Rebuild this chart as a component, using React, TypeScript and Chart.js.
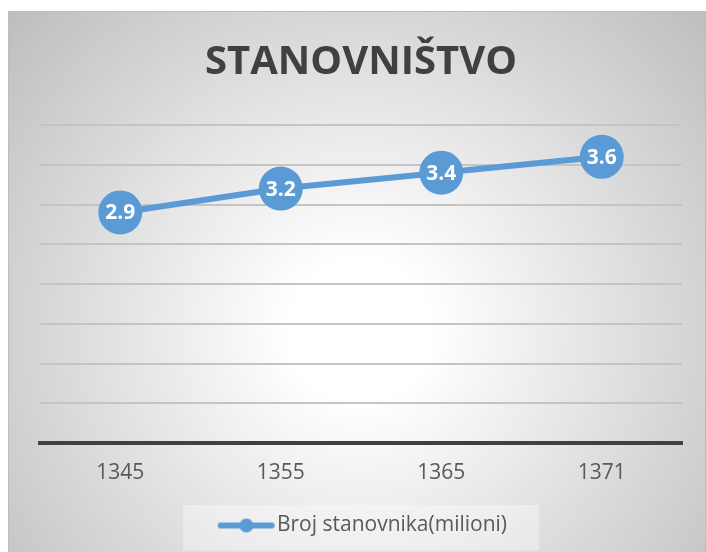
import React, { useEffect, useRef } from "react";
import { Chart, registerables } from "chart.js";

Chart.register(...registerables);

const categories: string[] = ["1345", "1355", "1365", "1371"];
const populationValues: number[] = [2.9, 3.2, 3.4, 3.6];
const seriesLabel = "Broj stanovnika(milioni)";
const chartTitle = "STANOVNIŠTVO";
const yMin = 0;
const yMax = 4;
const yStep = 0.5;

const BLUE = "#5b9bd5";

function makeLegendImage(): HTMLCanvasElement {
  const c = document.createElement("canvas");
  c.width = 72;
  c.height = 20;
  const g = c.getContext("2d")!;
  g.strokeStyle = BLUE;
  g.lineWidth = 6;
  g.lineCap = "round";
  g.beginPath();
  g.moveTo(16, 10);
  g.lineTo(67, 10);
  g.stroke();
  g.fillStyle = BLUE;
  g.beginPath();
  g.arc(41.75, 10, 7, 0, Math.PI * 2);
  g.fill();
  return c;
}

const backgroundPlugin = {
  id: "bgFrame",
  beforeDraw(chart: any) {
    const ctx = chart.ctx as CanvasRenderingContext2D;
    const w = chart.width;
    const h = chart.height;
    ctx.save();
    ctx.fillStyle = "#ffffff";
    ctx.fillRect(0, 0, w, h);
    const grad = ctx.createRadialGradient(360, 330, 0, 360, 330, 470);
    grad.addColorStop(0, "#ffffff");
    grad.addColorStop(0.15, "#ffffff");
    grad.addColorStop(1, "#bebebe");
    ctx.fillStyle = grad;
    ctx.fillRect(8, 11, w - 8, h - 11);
    ctx.strokeStyle = "#bdbdbd";
    ctx.lineWidth = 1;
    ctx.strokeRect(8.5, 11.5, w - 9, h - 11);
    const lg = chart.legend;
    if (lg && lg.legendHitBoxes && lg.legendHitBoxes.length) {
      ctx.fillStyle = "rgba(255,255,255,0.35)";
      ctx.fillRect(183, lg.top, 356, lg.bottom - lg.top + 4);
    }
    ctx.restore();
  },
};

const labelPlugin = {
  id: "pointLabels",
  afterDatasetsDraw(chart: any) {
    const ctx = chart.ctx as CanvasRenderingContext2D;
    const meta = chart.getDatasetMeta(0);
    const data = chart.data.datasets[0].data as number[];
    ctx.save();
    ctx.fillStyle = "#ffffff";
    ctx.font = "bold 21px 'Open Sans'";
    ctx.textAlign = "center";
    ctx.textBaseline = "middle";
    meta.data.forEach((pt: any, i: number) => {
      ctx.fillText(data[i].toFixed(1), pt.x, pt.y + 1);
    });
    ctx.restore();
  },
};

export default function App() {
  const canvasRef = useRef<HTMLCanvasElement | null>(null);

  useEffect(() => {
    document.body.style.margin = "0";
    const canvas = canvasRef.current;
    if (!canvas) return;
    const legendImg = makeLegendImage();
    const chart = new Chart(canvas, {
      type: "line",
      data: {
        labels: categories,
        datasets: [
          {
            label: seriesLabel,
            data: populationValues,
            borderColor: BLUE,
            backgroundColor: BLUE,
            borderWidth: 6,
            pointStyle: "circle",
            pointRadius: 22,
            pointHoverRadius: 22,
            pointBackgroundColor: BLUE,
            pointBorderColor: BLUE,
            pointBorderWidth: 0,
            tension: 0,
            clip: false as any,
          },
        ],
      },
      options: {
        responsive: false,
        animation: false,
        devicePixelRatio: 1,
        layout: { padding: { left: 40, right: 24, top: 0, bottom: 6 } },
        plugins: {
          title: {
            display: true,
            text: chartTitle,
            color: "#404040",
            font: { family: "'Open Sans'", size: 40, weight: "bold", lineHeight: 1.2 },
            padding: { top: 39, bottom: 38 },
          },
          legend: {
            display: true,
            position: "bottom",
            labels: {
              color: "#595959",
              font: { family: "'Open Sans'", size: 21, lineHeight: 1.2 },
              padding: 10,
              usePointStyle: true,
              pointStyleWidth: 51.5,
              generateLabels: () => [
                {
                  text: seriesLabel,
                  pointStyle: legendImg as any,
                  fillStyle: BLUE,
                  strokeStyle: BLUE,
                  lineWidth: 0,
                  hidden: false,
                  datasetIndex: 0,
                  fontColor: "#595959",
                } as any,
              ],
            },
          },
          tooltip: { enabled: false },
        },
        scales: {
          x: {
            type: "category",
            offset: true,
            grid: { display: false, drawTicks: false },
            border: { display: true, color: "#404040", width: 4 },
            ticks: {
              color: "#595959",
              font: { family: "'Open Sans'", size: 21, lineHeight: 1.2 },
              padding: 17,
              maxRotation: 0,
            },
            afterFit: (scale: any) => {
              scale.height = 62;
            },
          },
          y: {
            min: yMin,
            max: yMax,
            grid: { color: "#c4c4c4", lineWidth: 2, drawTicks: false },
            border: { display: false },
            ticks: { display: false, stepSize: yStep },
            afterFit: (scale: any) => {
              scale.width = 0;
            },
          },
        },
      },
      plugins: [backgroundPlugin, labelPlugin],
    });
    return () => {
      chart.destroy();
    };
  }, []);

  return (
    <div style={{ position: "fixed", left: 0, top: 0, width: 706, height: 552 }}>
      <canvas ref={canvasRef} width={706} height={552} style={{ display: "block" }} />
    </div>
  );
}
